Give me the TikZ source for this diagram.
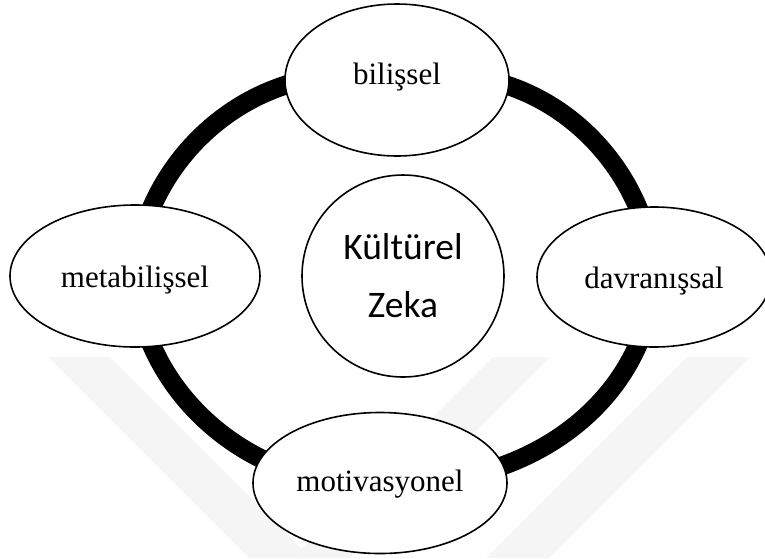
\documentclass[tikz,border=0pt]{standalone}
\usepackage{fontspec}
\setmainfont{Liberation Serif}
\newfontfamily\calib{Carlito}
\usetikzlibrary{shapes.geometric,backgrounds}
\begin{document}
\begin{tikzpicture}[x=1pt,y=-1pt,
  ell/.style={ellipse, draw, line width=1.6pt, fill=white, inner sep=0pt,
              text depth=0pt, font=\fontsize{31}{37}\selectfont},
  ring/.style={line width=19pt},
  wm/.style={fill=black!4, draw=none}]
\useasboundingbox (0,0) rectangle (765,558);

\node[ell, minimum width=224pt, minimum height=152pt, text height=8pt] (bil) at (397,80) {bilişsel};
\node[ell, minimum width=250pt, minimum height=142pt, text height=22pt] (meta) at (135,276) {metabilişsel};
\node[ell, minimum width=234pt, minimum height=140pt, text height=22pt] (dav) at (654,277) {davranışsal};
\node[ell, minimum width=254pt, minimum height=141pt, text height=17pt] (mot) at (380,483) {motivasyonel};
\node[circle, draw, line width=1.6pt, fill=white, minimum size=202pt, inner sep=0pt,
      align=center, font=\calib\fontsize{37.5}{58}\selectfont] (kz) at (403,276) {Kültürel\\Zeka};

\begin{scope}[on background layer]
  \fill[wm] (48,357) -- (110,357) -- (311,558) -- (249,558) -- cycle;
  \fill[wm] (493,357) -- (550,357) -- (349,558) -- (292,558) -- cycle;
  \fill[wm] (687,357) -- (750,357) -- (549,558) -- (486,558) -- cycle;
  \draw[ring] (bil.center) .. controls (257,50) and (142,159) .. (meta.center);
  \draw[ring] (bil.center) .. controls (535,50) and (648,159) .. (dav.center);
  \draw[ring] (meta.center) .. controls (142,395) and (255,491) .. (mot.center);
  \draw[ring] (mot.center) .. controls (535,491) and (648,395) .. (dav.center);
\end{scope}
\end{tikzpicture}
\end{document}
